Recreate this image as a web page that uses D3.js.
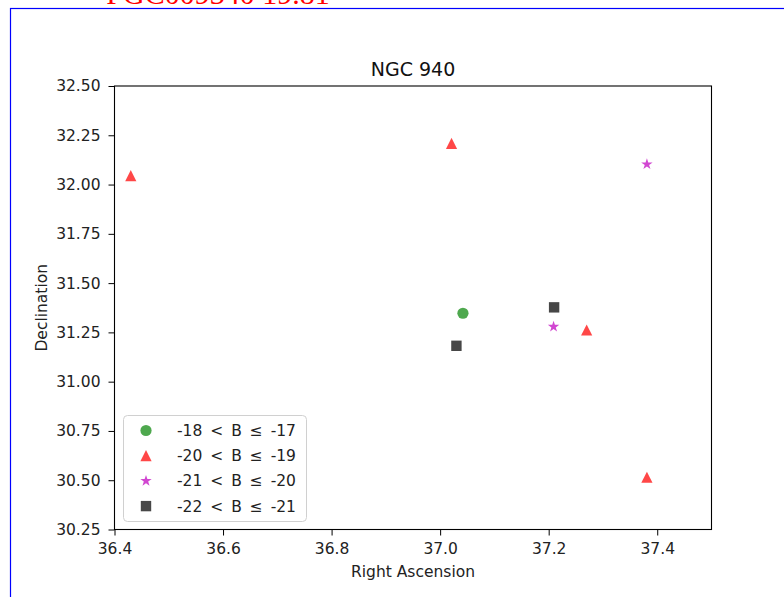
<!DOCTYPE html>
<html>
<head>
<meta charset="utf-8">
<script src="https://cdn.jsdelivr.net/npm/d3@7"></script>
<style>
  body { margin: 0; background: #fff; }
  text { font-family: "DejaVu Sans", sans-serif; }
</style>
</head>
<body>
<div id="chart"></div>
<script>
// data
const groupLabels = ["-18 < B \u2264 -17", "-20 < B \u2264 -19", "-21 < B \u2264 -20", "-22 < B \u2264 -21"];
const groupShapes = ["circle", "triangle", "star", "square"];
const groupColors = ["#0a870a", "#ff0000", "#bf00bf", "#000000"];

const circleRA = [37.042];
const circleDec = [31.347];
const triangleRA = [36.43, 37.021, 37.27, 37.381];
const triangleDec = [32.045, 32.209, 31.262, 30.515];
const starRA = [37.381, 37.209];
const starDec = [32.103, 31.279];
const squareRA = [37.03, 37.21];
const squareDec = [31.182, 31.377];

const xTicks = [36.4, 36.6, 36.8, 37.0, 37.2, 37.4];
const yTicks = [30.25, 30.5, 30.75, 31.0, 31.25, 31.5, 31.75, 32.0, 32.25, 32.5];

const width = 784, height = 597;
const margin = {left: 114.5, right: 72.5, top: 86, bottom: 67.5};

const svg = d3.select("#chart").append("svg")
    .attr("width", width)
    .attr("height", height);

// blue frame and clipped red header
svg.append("rect")
    .attr("x", 10.5).attr("y", 8.5)
    .attr("width", 800).attr("height", 700)
    .attr("fill", "none")
    .attr("stroke", "#0000ff")
    .attr("stroke-width", 1.2);

svg.append("text")
    .attr("x", 218).attr("y", 4)
    .attr("text-anchor", "middle")
    .style("font-family", "'Liberation Serif', serif")
    .style("font-size", "30px")
    .attr("fill", "#ff0000")
    .text("PGC009340  19.81");

const x = d3.scaleLinear().domain([36.4, 37.5]).range([margin.left, width - margin.right]);
const y = d3.scaleLinear().domain([30.25, 32.5]).range([height - margin.bottom, margin.top]);

const xAxis = svg.append("g")
    .attr("transform", `translate(0,${height - margin.bottom})`)
    .call(d3.axisBottom(x).tickValues(xTicks).tickFormat(d3.format(".1f")).tickSize(6).tickPadding(7).tickSizeOuter(0));

const yAxis = svg.append("g")
    .attr("transform", `translate(${margin.left},0)`)
    .call(d3.axisLeft(y).tickValues(yTicks).tickFormat(d3.format(".2f")).tickSize(6).tickPadding(8).tickSizeOuter(0));

[xAxis, yAxis].forEach(g => {
    g.select(".domain").remove();
    g.selectAll("line").attr("stroke", "#000").attr("stroke-width", 1);
    g.selectAll("text")
        .attr("fill", "#222")
        .style("font-family", "'DejaVu Sans', sans-serif")
        .style("font-size", "15.5px");
});

svg.append("rect")
    .attr("x", margin.left).attr("y", margin.top)
    .attr("width", width - margin.left - margin.right)
    .attr("height", height - margin.top - margin.bottom)
    .attr("fill", "none")
    .attr("stroke", "#000")
    .attr("stroke-width", 1.1);

svg.append("text")
    .attr("x", (margin.left + width - margin.right) / 2)
    .attr("y", 76)
    .attr("text-anchor", "middle")
    .style("font-size", "19px")
    .attr("fill", "#111")
    .text("NGC 940");

svg.append("text")
    .attr("x", (margin.left + width - margin.right) / 2)
    .attr("y", 577)
    .attr("text-anchor", "middle")
    .style("font-size", "15.5px")
    .attr("fill", "#222")
    .text("Right Ascension");

svg.append("text")
    .attr("transform", `translate(47,${(margin.top + height - margin.bottom) / 2}) rotate(-90)`)
    .attr("text-anchor", "middle")
    .style("font-size", "15.5px")
    .attr("fill", "#222")
    .text("Declination");

// marker shapes, about 11px across
function markerPath(shape) {
    const r = 5.6;
    if (shape === "circle") return d3.symbol(d3.symbolCircle, Math.PI * r * r)();
    if (shape === "square") return d3.symbol(d3.symbolSquare, 10.4 * 10.4)();
    if (shape === "triangle") return `M0,${-r}L${r},${r}L${-r},${r}Z`;
    // five point star like matplotlib "*"
    const pts = [];
    for (let i = 0; i < 10; i++) {
        const rad = i % 2 === 0 ? 6 : 6 * 0.382;
        const a = Math.PI / 5 * i - Math.PI / 2;
        pts.push([rad * Math.cos(a), rad * Math.sin(a)]);
    }
    return "M" + pts.map(p => p.join(",")).join("L") + "Z";
}

const series = [
    {shape: "circle", ra: circleRA, dec: circleDec, color: groupColors[0]},
    {shape: "triangle", ra: triangleRA, dec: triangleDec, color: groupColors[1]},
    {shape: "star", ra: starRA, dec: starDec, color: groupColors[2]},
    {shape: "square", ra: squareRA, dec: squareDec, color: groupColors[3]}
];

series.forEach(s => {
    svg.append("g").selectAll("path")
        .data(s.ra.map((v, i) => [v, s.dec[i]]))
        .enter().append("path")
        .attr("transform", d => `translate(${x(d[0])},${y(d[1])})`)
        .attr("d", markerPath(s.shape))
        .attr("fill", s.color)
        .attr("fill-opacity", 0.72);
});

// legend
const legend = svg.append("g");
legend.append("rect")
    .attr("x", 123.5).attr("y", 415.5)
    .attr("width", 183).attr("height", 106)
    .attr("rx", 4)
    .attr("fill", "#fff").attr("fill-opacity", 0.8)
    .attr("stroke", "#d0d0d0");

groupLabels.forEach((label, i) => {
    const ly = 430.5 + i * 25.2;
    legend.append("path")
        .attr("transform", `translate(146,${ly})`)
        .attr("d", markerPath(groupShapes[i]))
        .attr("fill", groupColors[i])
        .attr("fill-opacity", 0.72);
    legend.append("text")
        .attr("x", 177).attr("y", ly + 5.5)
        .style("font-size", "15.5px")
        .style("word-spacing", "3px")
        .attr("fill", "#222")
        .text(label);
});
</script>
</body>
</html>
